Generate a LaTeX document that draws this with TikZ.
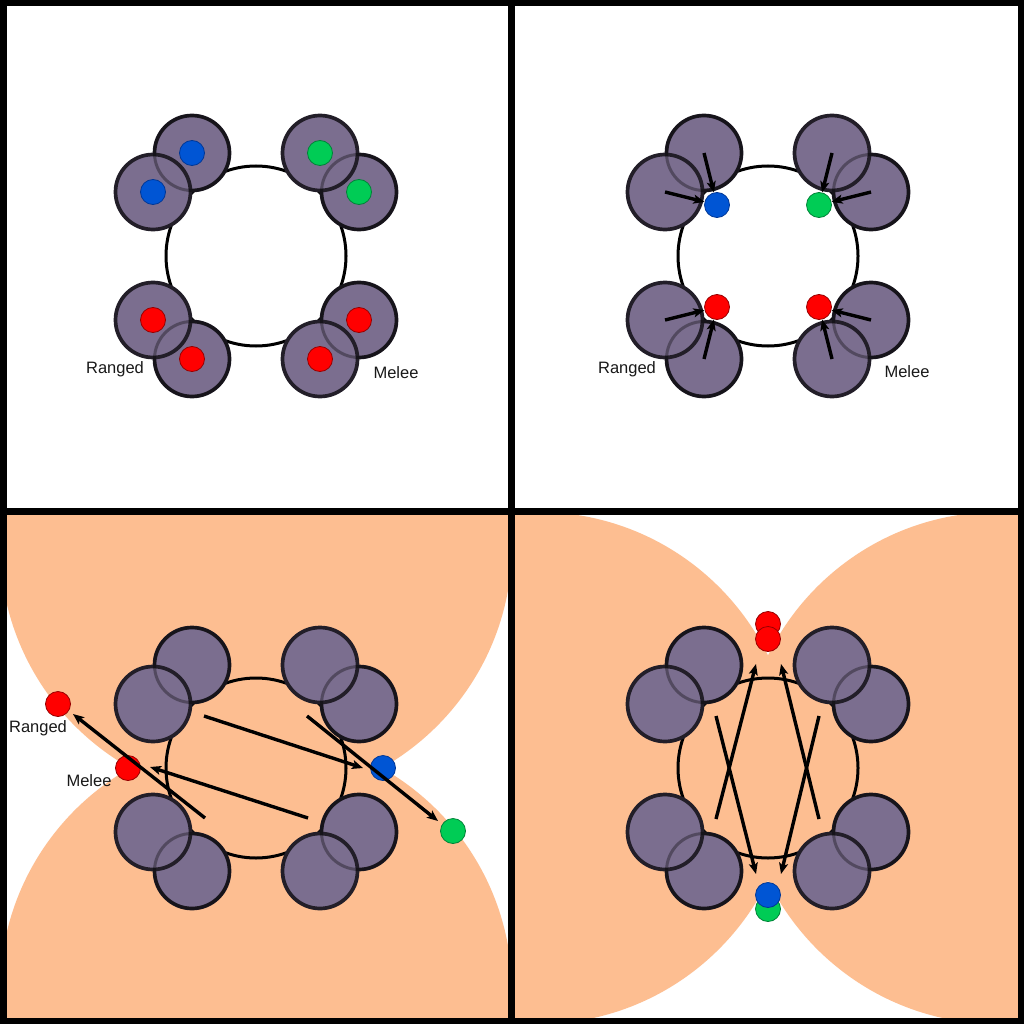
\documentclass[tikz,border=0pt]{standalone}
\usepackage{fontspec}
\newfontfamily\lblfont{Liberation Sans}
\usetikzlibrary{arrows.meta}
\definecolor{purp}{RGB}{123,110,143}
\definecolor{edgec}{RGB}{34,30,40}
\definecolor{orangec}{RGB}{253,190,145}
\definecolor{dblue}{RGB}{0,85,212}
\definecolor{dbluee}{RGB}{0,55,150}
\definecolor{dgreen}{RGB}{0,204,85}
\definecolor{dgreene}{RGB}{0,130,55}
\definecolor{dred}{RGB}{255,0,0}
\definecolor{drede}{RGB}{150,0,0}
\definecolor{txtc}{RGB}{25,25,25}
\tikzset{
  pc/.style={circle, draw=edgec, line width=3.7pt, fill=purp, minimum size=75pt, inner sep=0pt, outer sep=0pt},
  ghostline/.style={draw=black, draw opacity=0.33, line width=3pt},
  ringline/.style={draw=black, line width=3pt},
  dotbase/.style={circle, minimum size=25pt, inner sep=0pt, line width=0.8pt},
  bluedot/.style={dotbase, fill=dblue, draw=dbluee},
  greendot/.style={dotbase, fill=dgreen, draw=dgreene},
  reddot/.style={dotbase, fill=dred, draw=drede},
  arr/.style={draw=black, line width=3.4pt, -{Stealth[length=11pt,width=9pt,inset=2.5pt]}},
  lbl/.style={font=\lblfont\fontsize{16.5}{18}\selectfont, text=txtc, inner sep=0pt},
  framel/.style={draw=black, line width=7pt}
}
% #1 prefix, #2 cx, #3 cy
\newcommand{\cluster}[3]{%
  \draw[ringline] (#2,#3) circle[radius=90pt];
  \node[pc] (#1a) at (#2-64,#3-103) {};
  \node[pc] (#1b) at (#2-103,#3-64) {};
  \node[pc] (#1c) at (#2+103,#3-64) {};
  \node[pc] (#1d) at (#2+64,#3-103) {};
  \node[pc] (#1e) at (#2+103,#3+64) {};
  \node[pc] (#1f) at (#2+64,#3+103) {};
  \node[pc] (#1g) at (#2-64,#3+103) {};
  \node[pc] (#1h) at (#2-103,#3+64) {};
  \draw[ghostline] (#1a.center) circle[radius=37.5pt];
  \draw[ghostline] (#1c.center) circle[radius=37.5pt];
  \draw[ghostline] (#1e.center) circle[radius=37.5pt];
  \draw[ghostline] (#1g.center) circle[radius=37.5pt];
}
\begin{document}
\begin{tikzpicture}[x=1pt,y=-1pt]
\useasboundingbox (0,0) rectangle (1024,1024);
\fill[white] (0,0) rectangle (1024,1024);

% ---------- orange zones ----------
\begin{scope}
  \clip (6,515) rectangle (508,1018);
  \fill[orangec] (256,545) circle[radius=256pt];
  \fill[orangec] (256,991) circle[radius=256pt];
\end{scope}
\begin{scope}
  \clip (515,515) rectangle (1018,1018);
  \fill[orangec] (538,768) circle[radius=256pt];
  \fill[orangec] (998,768) circle[radius=256pt];
\end{scope}

% ---------- panel 1 ----------
\cluster{pa}{256}{256}
\node[bluedot] (pa-d1) at (pab) {};
\node[bluedot] (pa-d2) at (paa) {};
\node[greendot] (pa-d3) at (pad) {};
\node[greendot] (pa-d4) at (pac) {};
\node[reddot] (pa-d5) at (pae) {};
\node[reddot] (pa-d6) at (paf) {};
\node[reddot] (pa-d7) at (pag) {};
\node[reddot] (pa-d8) at (pah) {};
\node[lbl] (pa-r) at (115,369) {Ranged};
\node[lbl] (pa-m) at (396,373) {Melee};

% ---------- panel 2 ----------
\cluster{pb}{768}{256}
\node[bluedot] (pb-b) at (717,205) {};
\node[greendot] (pb-g) at (819,205) {};
\node[reddot] (pb-rl) at (717,307) {};
\node[reddot] (pb-rr) at (819,307) {};
\draw[arr] (pba.center) -- (pb-b);
\draw[arr] (pbb.center) -- (pb-b);
\draw[arr] (pbd.center) -- (pb-g);
\draw[arr] (pbc.center) -- (pb-g);
\draw[arr] (pbh.center) -- (pb-rl);
\draw[arr] (pbg.center) -- (pb-rl);
\draw[arr] (pbe.center) -- (pb-rr);
\draw[arr] (pbf.center) -- (pb-rr);
\node[lbl] (pb-r) at (627,369) {Ranged};
\node[lbl] (pb-m) at (907,372) {Melee};

% ---------- panel 3 ----------
\cluster{pc}{256}{768}
\node[reddot] (pc-ranged) at (58,704) {};
\node[reddot] (pc-melee) at (128,768) {};
\node[bluedot] (pc-b) at (383,768) {};
\node[greendot] (pc-g) at (453,831) {};
\coordinate (pc-s1) at (205,818);
\coordinate (pc-s2) at (308,818);
\coordinate (pc-s3) at (204,716);
\coordinate (pc-s4) at (307,716);
\coordinate (pc-t1) at (73,714);
\coordinate (pc-t2) at (150,767);
\coordinate (pc-t3) at (363,768);
\coordinate (pc-t4) at (438,821);
\draw[arr] (pc-s1) -- (pc-t1);
\draw[arr] (pc-s2) -- (pc-t2);
\draw[arr] (pc-s3) -- (pc-t3);
\draw[arr] (pc-s4) -- (pc-t4);
\node[lbl] (pc-r) at (38,728) {Ranged};
\node[lbl] (pc-m) at (89,781) {Melee};

% ---------- panel 4 ----------
\cluster{pd}{768}{768}
\node[reddot] (pd-r1) at (768,624) {};
\node[reddot] (pd-r2) at (768,639) {};
\node[greendot] (pd-g) at (768,909) {};
\node[bluedot] (pd-b) at (768,895) {};
\coordinate (pd-s1) at (716,819);
\coordinate (pd-s2) at (819,819);
\coordinate (pd-s3) at (716,716);
\coordinate (pd-s4) at (819,716);
\coordinate (pd-t1) at (756,664);
\coordinate (pd-t2) at (781,664);
\coordinate (pd-t3) at (756,874);
\coordinate (pd-t4) at (781,874);
\draw[arr] (pd-s1) -- (pd-t1);
\draw[arr] (pd-s2) -- (pd-t2);
\draw[arr] (pd-s3) -- (pd-t3);
\draw[arr] (pd-s4) -- (pd-t4);

% ---------- frame ----------
\draw[framel, line width=6.5pt] (3.25,3.25) rectangle (1020.75,1020.75);
\draw[framel] (511.7,0) -- (511.7,1024);
\draw[framel] (0,511.7) -- (1024,511.7);
\end{tikzpicture}
\end{document}
